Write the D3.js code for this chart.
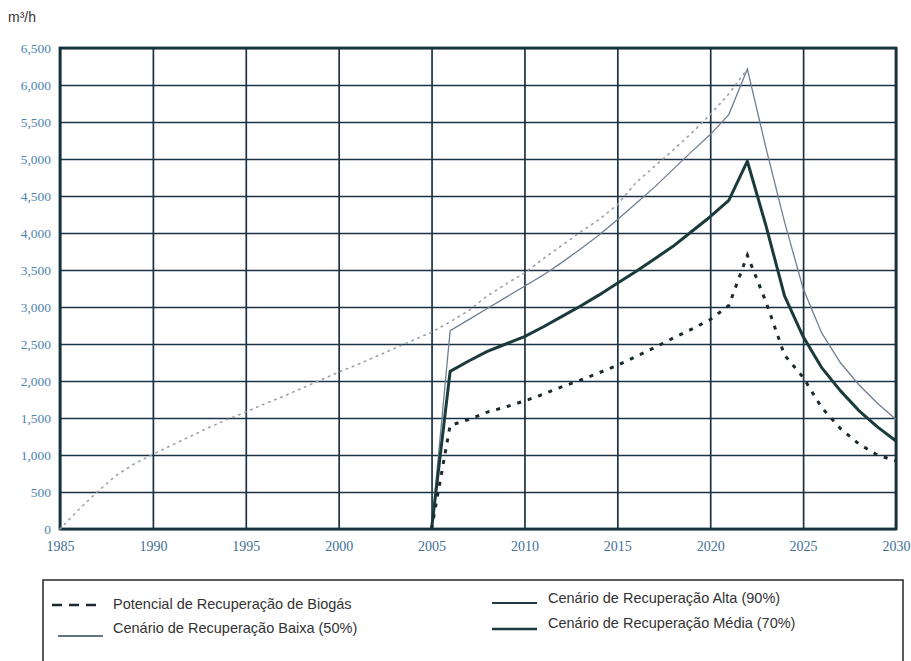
<!DOCTYPE html>
<html>
<head>
<meta charset="utf-8">
<script src="https://cdn.jsdelivr.net/npm/d3@7/dist/d3.min.js"></script>
<style>
  html, body { margin: 0; padding: 0; background: #ffffff; }
  svg { display: block; }
</style>
</head>
<body>
<svg id="chart" width="911" height="661"></svg>
<script>
// Biogas generation and recovery scenarios (m³/h)
const yearsGeneration = d3.range(1985, 2023);
const generation = [0, 260, 500, 720, 880, 1010, 1130, 1250, 1370, 1480, 1580, 1690, 1790, 1900, 2010,
  2120, 2220, 2330, 2440, 2550, 2660, 2800, 2950, 3150, 3310, 3460, 3650, 3830, 4010, 4180,
  4380, 4680, 4900, 5120, 5350, 5600, 5880, 6215];

const yearsRecovery = d3.range(2005, 2031);
const potencial = [0, 1400, 1480, 1580, 1650, 1730, 1820, 1920, 2010, 2110, 2210, 2330, 2450, 2580, 2700,
  2830, 3020, 3700, 3070, 2350, 2050, 1640, 1360, 1150, 1000, 920];
const baixa = [0, 2680, 2830, 2980, 3130, 3280, 3430, 3600, 3780, 3970, 4180, 4400, 4620, 4860, 5100,
  5330, 5600, 6215, 5150, 4150, 3250, 2650, 2250, 1950, 1700, 1480];
const media = [0, 2130, 2270, 2400, 2500, 2600, 2730, 2870, 3010, 3160, 3320, 3480, 3650, 3820, 4020,
  4220, 4440, 4970, 4100, 3150, 2600, 2180, 1870, 1600, 1380, 1190];

const xTicks = d3.range(1985, 2031, 5);
const yTicks = d3.range(0, 6501, 500);

const legendLeft = ["Potencial de Recuperação de Biogás", "Cenário de Recuperação Baixa (50%)"];
const legendRight = ["Cenário de Recuperação Alta (90%)", "Cenário de Recuperação Média (70%)"];

(function draw() {
  const svg = d3.select("#chart");
  const plotLeft = 60, plotRight = 896, plotTop = 48, plotBottom = 529;

  const x = d3.scaleLinear().domain([1985, 2030]).range([plotLeft, plotRight]);
  const y = d3.scaleLinear().domain([0, 6500]).range([plotBottom, plotTop]);

  const gridColor = "#1a3344";
  const labelFont = "'Liberation Serif', 'DejaVu Serif', serif";

  // horizontal grid + y labels
  const yAxis = svg.append("g")
    .attr("transform", `translate(${plotLeft},0)`)
    .call(d3.axisLeft(y).tickValues(yTicks).tickSize(-(plotRight - plotLeft)).tickPadding(9)
      .tickFormat(d3.format(",")));
  yAxis.select(".domain").remove();
  yAxis.selectAll(".tick line").attr("stroke", gridColor).attr("stroke-width", 1.7);
  yAxis.selectAll(".tick text")
    .attr("fill", "#4f83ad").attr("font-family", labelFont).attr("font-size", 13.5);

  // vertical grid + x labels
  const xAxis = svg.append("g")
    .attr("transform", `translate(0,${plotBottom})`)
    .call(d3.axisBottom(x).tickValues(xTicks).tickSize(-(plotBottom - plotTop)).tickPadding(12)
      .tickFormat(d3.format("d")));
  xAxis.select(".domain").remove();
  xAxis.selectAll(".tick line").attr("stroke", gridColor).attr("stroke-width", 1.7);
  xAxis.selectAll(".tick text")
    .attr("fill", "#3f6f96").attr("font-family", labelFont).attr("font-size", 14);

  // plot frame
  svg.append("rect")
    .attr("x", plotLeft).attr("y", plotTop)
    .attr("width", plotRight - plotLeft).attr("height", plotBottom - plotTop)
    .attr("fill", "none").attr("stroke", "#16303c").attr("stroke-width", 2.8);

  // unit label
  svg.append("text")
    .attr("x", 8).attr("y", 22)
    .attr("font-family", "'Liberation Sans', Arial, sans-serif")
    .attr("font-size", 14).attr("fill", "#333")
    .text("m³/h");

  const line = d3.line().x(d => x(d[0])).y(d => y(d[1]));

  // generation curve (dotted)
  svg.append("path")
    .datum(yearsGeneration.map((yr, i) => [yr, generation[i]]))
    .attr("d", line)
    .attr("fill", "none").attr("stroke", "#9aa0ab").attr("stroke-width", 1.6)
    .attr("stroke-dasharray", "1.5,5").attr("stroke-linecap", "round");

  // low scenario (thin)
  svg.append("path")
    .datum(yearsRecovery.map((yr, i) => [yr, baixa[i]]))
    .attr("d", line)
    .attr("fill", "none").attr("stroke", "#6f7f92").attr("stroke-width", 1.3);

  // medium scenario (thick)
  svg.append("path")
    .datum(yearsRecovery.map((yr, i) => [yr, media[i]]))
    .attr("d", line)
    .attr("fill", "none").attr("stroke", "#1b3a3c").attr("stroke-width", 3)
    .attr("stroke-linejoin", "round");

  // recovery potential (dashed)
  svg.append("path")
    .datum(yearsRecovery.map((yr, i) => [yr, potencial[i]]))
    .attr("d", line)
    .attr("fill", "none").attr("stroke", "#1c2a30").attr("stroke-width", 3)
    .attr("stroke-dasharray", "4,7");

  // legend
  const lg = svg.append("g");
  lg.append("rect")
    .attr("x", 43).attr("y", 580).attr("width", 860).attr("height", 100)
    .attr("fill", "#fff").attr("stroke", "#333").attr("stroke-width", 1.6);

  const legendFont = "'Liberation Sans', Arial, sans-serif";
  lg.append("line").attr("x1", 52).attr("x2", 102).attr("y1", 605).attr("y2", 605)
    .attr("stroke", "#1c2a30").attr("stroke-width", 2.5).attr("stroke-dasharray", "10,7");
  lg.append("line").attr("x1", 58).attr("x2", 103).attr("y1", 636).attr("y2", 636)
    .attr("stroke", "#2d4a5a").attr("stroke-width", 1.5);
  lg.append("line").attr("x1", 492).attr("x2", 537).attr("y1", 603).attr("y2", 603)
    .attr("stroke", "#1d3a46").attr("stroke-width", 1.8);
  lg.append("line").attr("x1", 492).attr("x2", 537).attr("y1", 629).attr("y2", 629)
    .attr("stroke", "#1b3a3c").attr("stroke-width", 2.6);

  lg.selectAll("text.l").data(legendLeft).join("text")
    .attr("class", "l")
    .attr("x", 113).attr("y", (d, i) => 609 + i * 24)
    .attr("font-family", legendFont).attr("font-size", 14.5).attr("fill", "#333")
    .text(d => d);
  lg.selectAll("text.r").data(legendRight).join("text")
    .attr("class", "r")
    .attr("x", 548).attr("y", (d, i) => 603 + i * 25)
    .attr("font-family", legendFont).attr("font-size", 14.5).attr("fill", "#333")
    .text(d => d);
})();
</script>
</body>
</html>
